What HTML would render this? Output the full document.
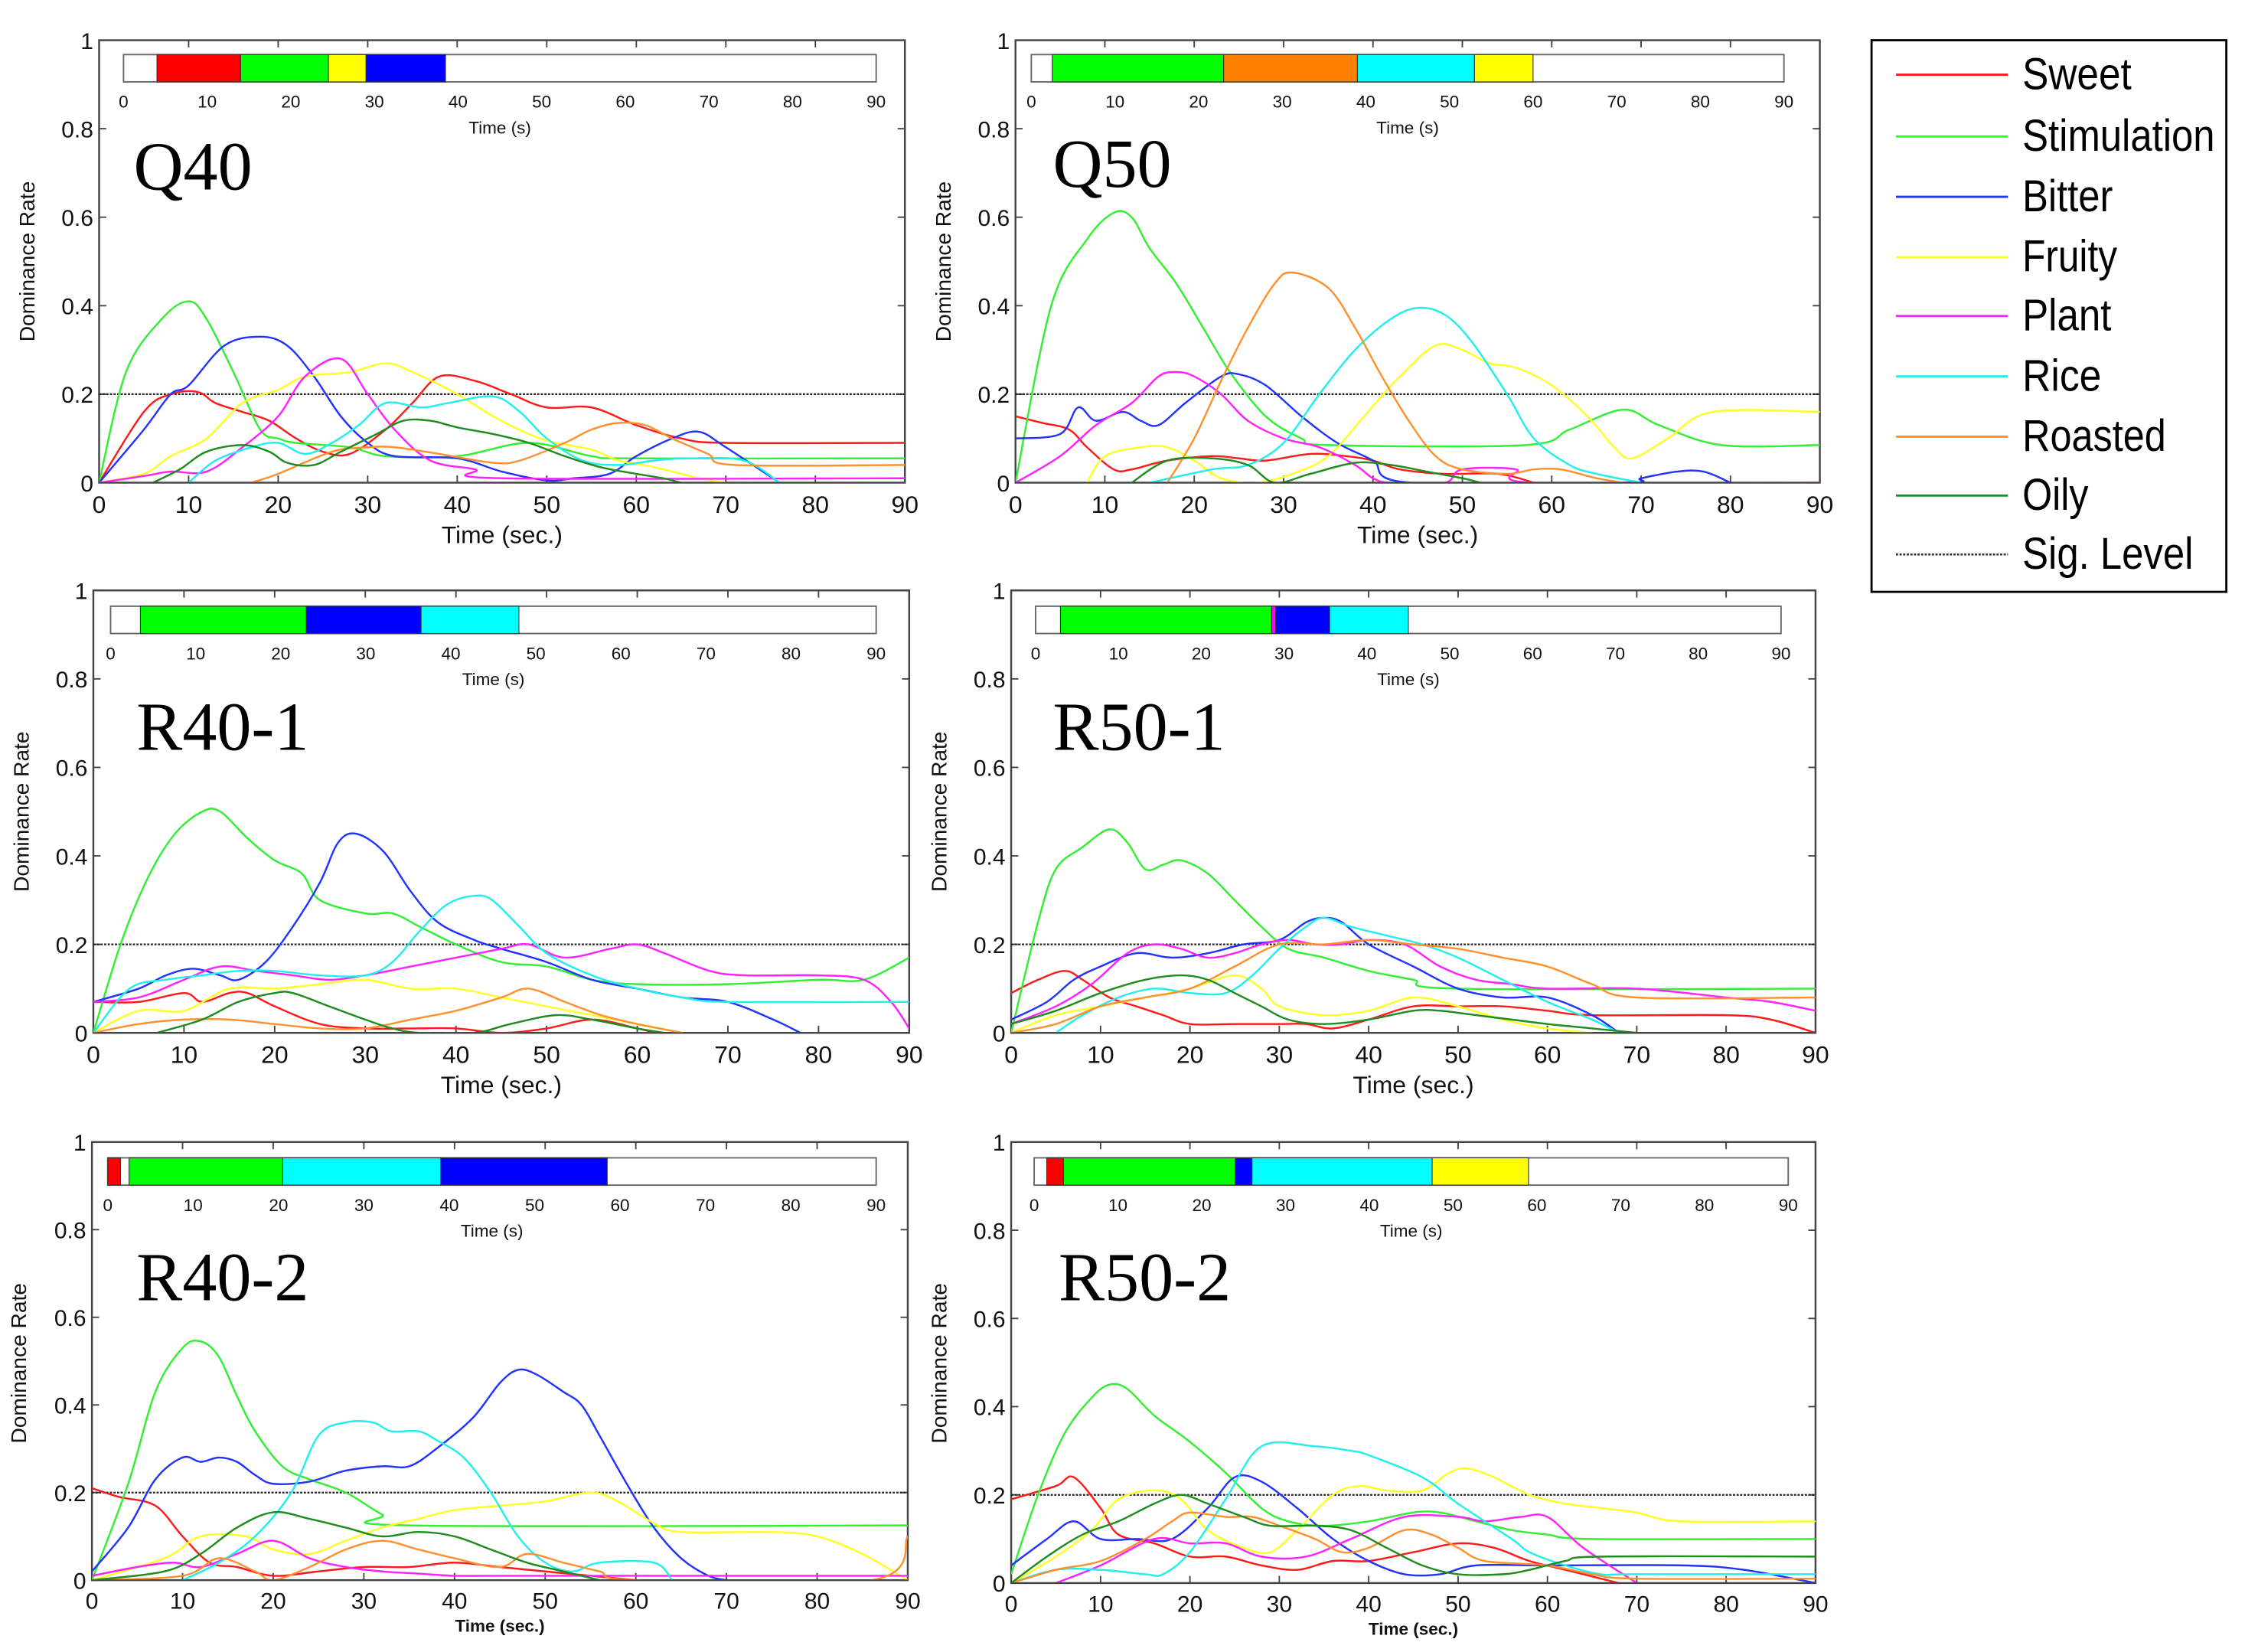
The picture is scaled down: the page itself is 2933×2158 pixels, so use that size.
<!DOCTYPE html>
<html><head><meta charset="utf-8">
<style>
html,body{margin:0;padding:0;background:#fff;}
svg{display:block;}
text{font-family:"Liberation Sans",sans-serif;}
</style></head>
<body>
<svg id="chart" xmlns="http://www.w3.org/2000/svg" width="2933" height="2158" viewBox="0 0 1563 1150"><defs id="defs"></defs></svg>
<script>
const xTicks = [0,10,20,30,40,50,60,70,80,90];
const yTicks = [0,0.2,0.4,0.6,0.8,1];
const yTickLabels = ['0','0.2','0.4','0.6','0.8','1'];
const sigLevel = 0.2;
const attrNames = ['Sweet','Stimulation','Bitter','Fruity','Plant','Rice','Roasted','Oily'];
const attrKeys = ['sweet','stim','bitter','fruity','plant','rice','roasted','oily'];
const attrColors = ['#ff1a1a','#33ee33','#2233ff','#ffff22','#ff22ff','#22eeee','#ff9030','#1e8c1e'];

// Dominance bar segments [start, end, attribute-index]
const q40_segs = [[4,14,0],[14,24.5,1],[24.5,29,3],[29,38.5,2]];
const q50_segs = [[2.5,23,1],[23,39,6],[39,53,5],[53,60,3]];
const r401_segs = [[3.5,23,1],[23,36.5,2],[36.5,48,5]];
const r501_segs = [[3,28.5,1],[28.5,29,4],[29,35.5,2],[35.5,45,5]];
const r402_segs = [[0,1.5,0],[2.5,20.5,1],[20.5,39,5],[39,58.5,2]];
const r502_segs = [[1.5,3.5,0],[3.5,24,1],[24,26,2],[26,47.5,5],[47.5,59,3]];

// Q40 curves [time, rate]
const q40_sweet=[[0,0],[5,.16],[8,.2],[11,.205],[13,.18],[16,.16],[19,.14],[22,.1],[25,.07],[28,.065],[32,.12],[35,.18],[38,.24],[42,.23],[46,.2],[50,.17],[55,.17],[60,.13],[65,.1],[70,.09],[90,.09]];
const q40_stim=[[0,0],[3,.25],[7,.37],[10,.41],[12,.37],[15,.25],[18,.12],[20,.1],[22,.09],[28,.08],[32,.06],[40,.06],[48,.09],[55,.06],[60,.055],[90,.055]];
const q40_bitter=[[0,0],[5,.12],[8,.2],[10,.22],[14,.31],[18,.33],[21,.31],[24,.24],[27,.15],[30,.09],[33,.06],[40,.055],[45,.025],[50,.005],[53,.01],[57,.02],[60,.06],[64,.1],[67,.115],[70,.08],[76,0]];
const q40_fruity=[[0,0],[5,.02],[8,.06],[12,.1],[16,.18],[20,.21],[23,.24],[28,.25],[32,.27],[35,.25],[40,.2],[44,.15],[48,.11],[51,.09],[55,.075],[58,.05],[62,.035],[67,.01],[70,0]];
const q40_plant=[[0,0],[5,.015],[8,.025],[12,.025],[16,.08],[20,.15],[23,.24],[27,.28],[30,.2],[33,.12],[37,.05],[42,.03],[45,.01],[90,.01]];
const q40_rice=[[10,0],[13,.05],[17,.08],[20,.09],[23,.065],[26,.09],[29,.13],[32,.18],[36,.17],[39,.18],[44,.195],[47,.16],[50,.1],[54,.05],[58,.04],[62,.05],[66,.055],[72,.05],[76,0]];
const q40_roasted=[[17,0],[20,.02],[26,.07],[30,.08],[33,.08],[38,.065],[44,.045],[47,.05],[52,.09],[55,.12],[58,.135],[61,.13],[64,.1],[68,.065],[71,.04],[90,.04]];
const q40_oily=[[6,0],[9,.03],[12,.07],[16,.085],[19,.07],[21,.045],[24,.04],[27,.07],[31,.11],[34,.14],[37,.14],[40,.125],[44,.11],[48,.09],[52,.06],[56,.035],[60,.02],[63,.01],[65,0]];

// Q50
const q50_sweet=[[0,.15],[3,.135],[6,.12],[8,.08],[11,.03],[13,.03],[17,.05],[22,.06],[25,.055],[28,.05],[33,.065],[37,.06],[40,.05],[43,.03],[48,.02],[54,.02],[58,0]];
const q50_stim=[[0,0],[4,.4],[8,.55],[11,.61],[13,.6],[15,.53],[18,.45],[21,.35],[24,.25],[28,.15],[32,.1],[35,.085],[57,.085],[62,.12],[68,.165],[72,.13],[79,.085],[90,.085]];
const q50_bitter=[[0,.1],[5,.11],[7,.17],[9,.14],[12,.16],[14,.14],[16,.13],[19,.18],[23,.24],[25,.245],[28,.22],[32,.15],[36,.09],[40,.05],[44,0],[68,0],[70,.01],[74,.025],[77,.025],[80,0]];
const q50_fruity=[[8,0],[10,.06],[14,.08],[17,.08],[20,.05],[23,.01],[27,0],[31,.02],[35,.06],[39,.15],[43,.24],[47,.31],[50,.3],[53,.27],[56,.26],[60,.22],[64,.15],[67,.08],[69,.055],[73,.1],[78,.16],[90,.16]];
const q50_plant=[[0,0],[5,.06],[9,.13],[13,.18],[16,.24],[18,.25],[20,.24],[23,.2],[26,.14],[30,.1],[34,.08],[38,.04],[40,.01],[42,0],[48,0],[50,.03],[56,.03],[58,0],[90,0]];
const q50_rice=[[15,0],[22,.03],[26,.04],[30,.09],[34,.2],[38,.3],[42,.37],[45,.395],[48,.38],[51,.32],[55,.2],[58,.1],[62,.04],[65,.02],[70,0]];
const q50_roasted=[[17,0],[20,.1],[23,.23],[26,.35],[29,.45],[31,.475],[35,.44],[38,.35],[41,.24],[44,.14],[47,.06],[50,.03],[55,.02],[58,.03],[61,.03],[65,.01],[68,0]];
const q50_oily=[[13,0],[17,.05],[22,.055],[26,.04],[29,0],[33,.02],[38,.045],[42,.04],[46,.025],[50,.01],[52,0]];

// R40-1
const r401_sweet=[[0,.07],[5,.07],[10,.09],[12,.07],[15,.09],[17,.09],[20,.06],[25,.02],[30,.01],[35,.01],[40,.01],[45,0],[50,.01],[55,.03],[60,.01],[62,0]];
const r401_stim=[[0,0],[3,.2],[6,.35],[9,.45],[12,.5],[14,.5],[17,.44],[20,.39],[23,.36],[25,.3],[30,.27],[33,.27],[36,.24],[40,.2],[45,.16],[50,.15],[55,.12],[60,.11],[70,.11],[80,.12],[85,.12],[90,.17]];
const r401_bitter=[[0,.07],[5,.1],[8,.13],[11,.145],[14,.13],[16,.12],[19,.16],[22,.24],[25,.34],[27,.43],[29,.45],[32,.41],[35,.32],[38,.25],[42,.21],[45,.19],[50,.16],[55,.12],[60,.1],[65,.08],[70,.07],[75,.03],[78,0]];
const r401_fruity=[[0,0],[5,.05],[10,.05],[15,.1],[20,.1],[25,.11],[30,.12],[35,.1],[40,.1],[45,.08],[50,.06],[55,.04],[60,.02],[65,0]];
const r401_plant=[[0,.07],[5,.08],[10,.12],[14,.15],[18,.14],[22,.13],[26,.12],[30,.13],[35,.15],[40,.17],[45,.19],[48,.2],[52,.17],[57,.19],[60,.2],[63,.18],[68,.14],[72,.13],[80,.13],[85,.12],[88,.07],[90,.01]];
const r401_rice=[[0,0],[4,.1],[8,.12],[12,.13],[16,.14],[20,.14],[25,.13],[30,.13],[33,.16],[36,.23],[39,.29],[42,.31],[44,.3],[47,.24],[50,.18],[55,.13],[60,.1],[65,.08],[70,.07],[90,.07]];
const r401_roasted=[[0,0],[5,.02],[10,.03],[15,.03],[20,.02],[25,.01],[30,.01],[35,.03],[40,.05],[45,.08],[48,.1],[52,.07],[56,.04],[60,.02],[65,0]];
const r401_oily=[[7,0],[12,.03],[16,.07],[20,.09],[22,.09],[26,.06],[30,.03],[33,.01],[36,0],[42,0],[46,.02],[51,.04],[55,.03],[60,.01],[63,0]];

// R50-1
const r501_sweet=[[0,.09],[3,.12],[6,.14],[8,.12],[11,.08],[14,.06],[17,.04],[20,.02],[25,.02],[30,.02],[33,.02],[36,.01],[40,.03],[45,.06],[50,.06],[55,.06],[60,.05],[65,.04],[80,.04],[85,.03],[90,0]];
const r501_stim=[[0,0],[3,.25],[5,.37],[8,.42],[11,.46],[13,.43],[15,.37],[17,.38],[19,.39],[22,.36],[25,.3],[28,.24],[31,.19],[35,.17],[40,.14],[45,.12],[50,.1],[90,.1]];
const r501_bitter=[[0,.03],[4,.07],[7,.12],[10,.15],[14,.18],[18,.17],[22,.18],[26,.2],[30,.21],[33,.25],[35,.26],[37,.25],[40,.2],[45,.15],[50,.1],[55,.08],[60,.08],[65,.04],[68,0]];
const r501_fruity=[[0,0],[5,.04],[10,.06],[15,.08],[20,.1],[25,.13],[28,.1],[30,.06],[35,.04],[40,.05],[45,.08],[50,.06],[55,.03],[60,.01],[65,0]];
const r501_plant=[[0,.02],[5,.06],[9,.11],[13,.18],[16,.2],[19,.19],[22,.17],[25,.18],[28,.2],[31,.21],[34,.2],[37,.2],[40,.21],[44,.2],[48,.15],[52,.12],[56,.11],[60,.1],[70,.1],[80,.08],[85,.07],[90,.05]];
const r501_rice=[[5,0],[8,.04],[12,.08],[16,.1],[20,.09],[24,.09],[27,.13],[30,.19],[33,.24],[35,.26],[38,.24],[42,.22],[46,.2],[50,.17],[55,.12],[60,.07],[65,.03],[68,0]];
const r501_roasted=[[0,0],[5,.02],[10,.06],[15,.08],[20,.1],[25,.15],[30,.2],[35,.2],[40,.21],[45,.2],[50,.19],[55,.17],[60,.15],[65,.11],[70,.08],[90,.08]];
const r501_oily=[[0,.02],[5,.05],[10,.09],[15,.12],[19,.13],[22,.12],[25,.09],[28,.06],[31,.03],[35,.02],[40,.03],[45,.05],[48,.05],[52,.04],[56,.03],[60,.02],[65,.01],[70,0]];

// R40-2
const r402_sweet=[[0,.21],[3,.19],[7,.17],[10,.1],[13,.04],[16,.03],[20,.01],[25,.02],[30,.03],[35,.03],[40,.04],[45,.03],[50,.02],[55,.01],[60,0]];
const r402_stim=[[0,0],[4,.22],[7,.43],[10,.53],[12,.545],[14,.51],[16,.42],[18,.34],[21,.26],[24,.23],[28,.2],[32,.15],[35,.125],[90,.125]];
const r402_bitter=[[0,.02],[4,.12],[7,.23],[10,.28],[12,.27],[14,.28],[16,.27],[18,.24],[20,.22],[24,.225],[28,.25],[32,.26],[35,.26],[38,.3],[42,.37],[45,.45],[47,.48],[49,.47],[52,.43],[54,.4],[56,.33],[59,.22],[62,.12],[65,.05],[68,.01],[70,0]];
const r402_fruity=[[0,0],[8,.05],[12,.1],[17,.1],[20,.07],[24,.06],[28,.09],[32,.12],[36,.14],[40,.16],[45,.17],[50,.18],[55,.2],[58,.18],[62,.13],[65,.11],[75,.11],[80,.1],[85,.06],[90,0]];
const r402_plant=[[0,.01],[5,.03],[9,.04],[12,.03],[16,.06],[20,.09],[24,.05],[28,.03],[32,.02],[36,.015],[40,.01],[45,.01],[50,.01],[90,.01]];
const r402_rice=[[10,0],[14,.04],[18,.1],[22,.2],[25,.33],[28,.36],[31,.36],[33,.34],[36,.34],[38,.32],[41,.28],[44,.2],[47,.1],[50,.04],[53,.02],[56,.04],[62,.04],[64,0]];
const r402_roasted=[[0,0],[10,.01],[14,.05],[18,.02],[20,0],[24,.03],[28,.07],[32,.09],[36,.07],[40,.05],[45,.03],[48,.06],[52,.04],[56,.02],[60,0],[86,0],[90,.1]];
const r402_oily=[[0,0],[8,.02],[12,.06],[16,.12],[20,.155],[24,.14],[28,.12],[32,.1],[36,.11],[40,.1],[44,.07],[48,.04],[52,.02],[56,0]];

// R50-2
const r502_sweet=[[0,.19],[5,.22],[7,.24],[10,.17],[12,.11],[16,.09],[20,.06],[24,.06],[28,.04],[32,.03],[36,.05],[40,.05],[45,.07],[50,.09],[54,.08],[58,.05],[62,.03],[66,.01],[68,0]];
const r502_stim=[[0,.02],[3,.2],[6,.34],[9,.42],[11,.45],[13,.44],[16,.38],[20,.32],[24,.25],[28,.17],[31,.14],[35,.13],[40,.14],[45,.16],[48,.16],[52,.14],[56,.12],[60,.11],[65,.1],[90,.1]];
const r502_bitter=[[0,.04],[4,.1],[7,.14],[10,.1],[14,.1],[18,.1],[22,.17],[25,.24],[28,.23],[32,.17],[36,.1],[40,.05],[44,.02],[48,.02],[52,.04],[60,.04],[75,.04],[82,.03],[90,0]];
const r502_fruity=[[0,0],[5,.06],[9,.12],[12,.19],[16,.21],[19,.19],[22,.12],[26,.08],[29,.07],[32,.12],[36,.2],[39,.22],[42,.21],[46,.21],[49,.25],[51,.26],[54,.24],[58,.2],[62,.18],[66,.17],[70,.16],[75,.14],[90,.14]];
const r502_plant=[[5,0],[10,.04],[16,.1],[20,.09],[24,.09],[28,.06],[33,.06],[38,.1],[44,.15],[50,.15],[53,.14],[57,.15],[60,.15],[64,.08],[70,0]];
const r502_rice=[[0,0],[5,.03],[10,.03],[15,.02],[17,.02],[20,.07],[24,.19],[28,.31],[34,.31],[38,.3],[40,.29],[46,.24],[50,.18],[56,.1],[58,.07],[62,.04],[66,.02],[70,.02],[90,.02]];
const r502_roasted=[[0,0],[5,.03],[10,.05],[15,.1],[18,.14],[20,.16],[24,.15],[27,.15],[30,.13],[34,.1],[37,.07],[40,.08],[44,.12],[47,.11],[50,.08],[53,.05],[60,.04],[65,.02],[70,.01],[90,.01]];
const r502_oily=[[0,0],[4,.06],[8,.11],[12,.14],[16,.18],[19,.2],[22,.18],[26,.15],[29,.13],[34,.13],[38,.12],[42,.08],[46,.04],[50,.02],[55,.02],[58,.03],[62,.05],[66,.06],[90,.06]];

const NS='http://www.w3.org/2000/svg';
const svg=document.getElementById('chart');
const defs=document.getElementById('defs');
function mk(tag,attrs,parent){const e=document.createElementNS(NS,tag);for(const k in attrs)e.setAttribute(k,attrs[k]);(parent||svg).appendChild(e);return e;}

const panels=[
 {id:'q40',label:'Q40',x0:69,x1:630,yT:28,yB:336,bx0:86,bx1:610,by:38,segs:q40_segs,lx:93,ly:132,dx:24,small:false,
  series:[q40_sweet,q40_stim,q40_bitter,q40_fruity,q40_plant,q40_rice,q40_roasted,q40_oily]},
 {id:'q50',label:'Q50',x0:707,x1:1267,yT:28,yB:336,bx0:718,bx1:1242,by:38,segs:q50_segs,lx:733,ly:130,dx:662,small:false,
  series:[q50_sweet,q50_stim,q50_bitter,q50_fruity,q50_plant,q50_rice,q50_roasted,q50_oily]},
 {id:'r40-1',label:'R40-1',x0:65,x1:633,yT:411,yB:719,bx0:77,bx1:610,by:422,segs:r401_segs,lx:95,ly:522,dx:20,small:false,
  series:[r401_sweet,r401_stim,r401_bitter,r401_fruity,r401_plant,r401_rice,r401_roasted,r401_oily]},
 {id:'r50-1',label:'R50-1',x0:704,x1:1264,yT:411,yB:719,bx0:721,bx1:1240,by:422,segs:r501_segs,lx:733,ly:522,dx:659,small:false,
  series:[r501_sweet,r501_stim,r501_bitter,r501_fruity,r501_plant,r501_rice,r501_roasted,r501_oily]},
 {id:'r40-2',label:'R40-2',x0:64,x1:632,yT:795,yB:1100,bx0:75,bx1:610,by:806,segs:r402_segs,lx:95,ly:905,dx:18,small:true,
  series:[r402_sweet,r402_stim,r402_bitter,r402_fruity,r402_plant,r402_rice,r402_roasted,r402_oily]},
 {id:'r50-2',label:'R50-2',x0:704,x1:1264,yT:795,yB:1102,bx0:720,bx1:1245,by:806,segs:r502_segs,lx:737,ly:905,dx:659,small:true,
  series:[r502_sweet,r502_stim,r502_bitter,r502_fruity,r502_plant,r502_rice,r502_roasted,r502_oily]}
];

function smoothPath(pts,X,Y){
  const p=pts.map(d=>[X(d[0]),Y(Math.max(0,d[1]))]);
  let s='M'+p[0][0].toFixed(2)+','+p[0][1].toFixed(2);
  for(let i=0;i<p.length-1;i++){
    const p0=p[i-1]||p[i],p1=p[i],p2=p[i+1],p3=p[i+2]||p2;
    const c1=[p1[0]+(p2[0]-p0[0])/6,p1[1]+(p2[1]-p0[1])/6];
    const c2=[p2[0]-(p3[0]-p1[0])/6,p2[1]-(p3[1]-p1[1])/6];
    s+='C'+c1[0].toFixed(2)+','+c1[1].toFixed(2)+' '+c2[0].toFixed(2)+','+c2[1].toFixed(2)+' '+p2[0].toFixed(2)+','+p2[1].toFixed(2);
  }
  return s;
}

panels.forEach((P,pi)=>{
  const g=mk('g',{});
  
  
  const X=t=>P.x0+(P.x1-P.x0)*t/90;
  const Y=v=>P.yB-(P.yB-P.yT)*v;
  const cp=mk('clipPath',{id:'clip'+pi},defs);
  mk('rect',{x:P.x0,y:P.yT,width:P.x1-P.x0,height:P.yB-P.yT-0.5},cp);
  const fr=mk('rect',{x:P.x0,y:P.yT,width:P.x1-P.x0,height:P.yB-P.yT,fill:'#fff',stroke:'#444','stroke-width':1.3},g);
  
  
  xTicks.forEach(t=>{
    mk('line',{x1:X(t),x2:X(t),y1:P.yB,y2:P.yB-5,stroke:'#444','stroke-width':1},g);
    mk('line',{x1:X(t),x2:X(t),y1:P.yT,y2:P.yT+5,stroke:'#444','stroke-width':1},g);
    const tl=mk('text',{x:X(t),y:P.yB+(P.small?20:21),'font-size':P.small?16:17,'text-anchor':'middle',fill:'#111'},g);
    tl.textContent=t;
    
    
  });
  yTicks.forEach((v,i)=>{
    mk('line',{x1:P.x0,x2:P.x0+5,y1:Y(v),y2:Y(v),stroke:'#444','stroke-width':1},g);
    mk('line',{x1:P.x1,x2:P.x1-5,y1:Y(v),y2:Y(v),stroke:'#444','stroke-width':1},g);
    const tl=mk('text',{x:P.x0-4,y:Y(v)+6,'font-size':16,'text-anchor':'end',fill:'#111'},g);
    tl.textContent=yTickLabels[i];
    
    
  });
  const xt=mk('text',{x:(P.x0+P.x1)/2,y:P.small?P.yB+36:P.yB+42,'font-size':P.small?12:17,'text-anchor':'middle',fill:'#111','font-weight':P.small?'bold':'normal'},g);
  xt.textContent='Time (sec.)';
  
  
  const cy=P.yT+154;
  const yt=mk('text',{x:P.dx,y:cy,'font-size':15,'text-anchor':'middle',fill:'#111',transform:'rotate(-90 '+P.dx+' '+cy+')'},g);
  yt.textContent='Dominance Rate';
  
  
  const lb=mk('text',{x:P.lx,y:P.ly,'font-size':48,fill:'#000',style:'font-family:"Liberation Serif",serif'},g);
  lb.textContent=P.label;
  
  
  const BX=t=>P.bx0+(P.bx1-P.bx0)*t/90;
  const bar=mk('rect',{x:P.bx0,y:P.by,width:P.bx1-P.bx0,height:19,fill:'#fff',stroke:'#666','stroke-width':1},g);
  
  
  P.segs.forEach(s=>{
    const r=mk('rect',{x:BX(s[0]),y:P.by,width:BX(s[1])-BX(s[0]),height:19,fill:['#ff0000','#00ff00','#0000ff','#ffff00','#ff00ff','#00ffff','#ff8000','#008000'][s[2]],stroke:'#333','stroke-width':0.6},g);
    
    
  });
  xTicks.forEach(t=>{
    const tl=mk('text',{x:BX(t),y:P.by+37,'font-size':12,'text-anchor':'middle',fill:'#111'},g);
    tl.textContent=t;
    
    
  });
  const bt=mk('text',{x:(P.bx0+P.bx1)/2,y:P.by+55,'font-size':12,'text-anchor':'middle',fill:'#111'},g);
  bt.textContent='Time (s)';
  
  
  const sl=mk('line',{x1:P.x0,x2:P.x1,y1:Y(sigLevel),y2:Y(sigLevel),stroke:'#222','stroke-width':1.2,'stroke-dasharray':'1.5,1'},g);
  
  
  const sg=mk('g',{'clip-path':'url(#clip'+pi+')'},g);
  P.series.forEach((d,i)=>{
    const pa=mk('path',{d:smoothPath(d,X,Y),fill:'none',stroke:attrColors[i],'stroke-width':1.3},sg);
    
    
  });
});

const lg=mk('g',{});


mk('rect',{x:1303,y:28,width:247,height:384,fill:'#fff',stroke:'#000','stroke-width':1.5},lg);
const legendYs=[52,95,137,179,220,262,304,345,386];
const legendLens=[76,134,63,66,62,55,100,46,119];
attrNames.concat(['Sig. Level']).forEach((n,i)=>{
  const y=legendYs[i];
  const ln=mk('line',{x1:1320,x2:1398,y1:y,y2:y,stroke:i<8?attrColors[i]:'#222','stroke-width':i<8?1.5:1.3,'stroke-dasharray':i<8?'none':'1.5,1'},lg);
  
  
  const tx=mk('text',{x:1408,y:y+10,'font-size':31,fill:'#000',textLength:legendLens[i],lengthAdjust:'spacingAndGlyphs'},lg);
  tx.textContent=n;
  
  
});
</script>
</body></html>
